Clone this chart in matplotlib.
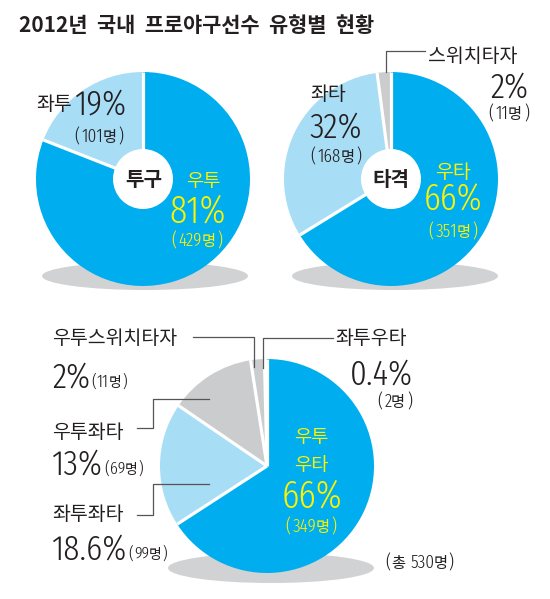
import numpy as np
import matplotlib
matplotlib.use("Agg")
import matplotlib.pyplot as plt
from matplotlib.patches import Circle, Ellipse

# 2012 국내 프로야구선수 유형별 현황 (총 530명)
pitch_labels = ["우투", "좌투"]
pitch_counts = [429, 101]
pitch_pct = ["81%", "19%"]

bat_labels = ["우타", "좌타", "스위치타자"]
bat_counts = [351, 168, 11]
bat_pct = ["66%", "32%", "2%"]

combo_labels = ["우투우타", "좌투좌타", "우투좌타", "우투스위치타자", "좌투우타"]
combo_counts = [349, 99, 69, 11, 2]
combo_pct = ["66%", "18.6%", "13%", "2%", "0.4%"]

W, H = 550, 599
BLUE = "#00AEEF"
LIGHT = "#A8DDF6"
GRAY = "#CBCCCE"
SHADOW = "#D1D2D3"
YELLOW = "#FFF200"
INK = "#231F20"
LINE = "#555555"

KR = ["Noto Sans CJK KR", "DejaVu Sans"]
NUM = ["Fira Sans Extra Condensed", "Roboto Condensed", "Noto Sans CJK KR", "DejaVu Sans"]


def Y(y):
    return H - y


def kr(ax, x, y, s, size=14, color=INK, ha="center", va="center", weight="medium"):
    return ax.text(x, Y(y), s, fontsize=size, color=color, ha=ha, va=va,
                   family=KR, fontweight=weight)


def num(ax, x, y, s, size=26, color=INK, ha="center", va="center"):
    return ax.text(x, Y(y), s, fontsize=size, color=color, ha=ha, va=va,
                   family=NUM, fontweight=300)


def width(ax, t):
    bb = t.get_window_extent(renderer=ax.figure.canvas.get_renderer())
    return bb.width


def chain(ax, x, base, pieces, color=INK, ha="left", gaps=None):
    # pieces: (text, family, size), set on one baseline
    texts = []
    for s, fam, size in pieces:
        w = 300 if fam is NUM else "medium"
        texts.append(ax.text(0, Y(base), s, fontsize=size, color=color, ha="left",
                             va="baseline", family=fam, fontweight=w))
    ws = [width(ax, t) for t in texts]
    if gaps is None:
        gaps = [1] * (len(ws) - 1)
    total = sum(ws) + sum(gaps)
    x0 = {"left": x, "center": x - total / 2, "right": x - total}[ha]
    for i, (t, w) in enumerate(zip(texts, ws)):
        t.set_x(x0)
        x0 += w + (gaps[i] if i < len(gaps) else 0)
    return x0


def cnt(ax, x, base, n, color=INK, ha="center", dsize=13.5, ksize=11, pad=2):
    pieces = [("(", NUM, dsize), (str(n), NUM, dsize), ("명", KR, ksize), (")", NUM, dsize)]
    return chain(ax, x, base, pieces, color=color, ha=ha, gaps=[pad, -0.5, pad])


def draw_pie(ax, counts, colors, cx, cy, r, shadow, hole=0):
    sx, sy, sw, sh = shadow
    ax.add_patch(Ellipse((sx, Y(sy)), sw, sh, fc=SHADOW, ec="none", zorder=0))
    wedges, _ = ax.pie(counts, colors=colors, startangle=90, counterclock=False,
                       center=(cx, Y(cy)), radius=r,
                       wedgeprops=dict(edgecolor="none", linewidth=0))
    for w in wedges:
        a = np.deg2rad(w.theta1)
        ax.plot([cx, cx + r * np.cos(a)], [Y(cy), Y(cy) + r * np.sin(a)],
                color="white", lw=2.3, zorder=2, solid_capstyle="butt")
    if hole:
        ax.add_patch(Circle((cx, Y(cy)), hole, fc="white", ec="none", zorder=3))


def leader(ax, xs, ys):
    ax.plot(xs, [Y(v) for v in ys], color=LINE, lw=0.9, zorder=4)


def after(ax, t, gap=1):
    bb = t.get_window_extent(renderer=ax.figure.canvas.get_renderer())
    return ax.transData.inverted().transform((bb.x1, bb.y0))[0] + gap


fig = plt.figure(figsize=(5.5, 5.99), dpi=100)
ax = fig.add_axes([0, 0, 1, 1])

draw_pie(ax, pitch_counts, [BLUE, LIGHT], 143, 179, 107, (145, 276, 206, 28), hole=30)
draw_pie(ax, bat_counts, [BLUE, LIGHT, GRAY], 391, 179, 107, (395, 276, 206, 28), hole=30)
draw_pie(ax, combo_counts, [BLUE, LIGHT, GRAY, GRAY, GRAY], 267, 466, 107,
         (271, 568, 206, 30))

ax.set_xlim(0, W)
ax.set_ylim(0, H)
ax.set_aspect("auto")
ax.axis("off")

# title
kr(ax, 19, 26, "2012년  국내  프로야구선수  유형별  현황", size=15, ha="left",
   weight="bold")

# 투구
kr(ax, 144, 180, "투구", size=14.5, weight="bold")
kr(ax, 203, 181, pitch_labels[0], size=13.5, color=YELLOW)
num(ax, 198, 212, pitch_pct[0], size=28, color=YELLOW)
cnt(ax, 197, 246, pitch_counts[0], color=YELLOW)
kr(ax, 54, 105, pitch_labels[1], size=14)
num(ax, 75, 105, pitch_pct[1], size=26, ha="left")
cnt(ax, 99, 142, pitch_counts[1])

# 타격
kr(ax, 391, 180, "타격", size=14.5, weight="bold")
kr(ax, 453, 172, bat_labels[0], size=14, color=YELLOW)
num(ax, 453, 200, bat_pct[0], size=27, color=YELLOW)
cnt(ax, 453, 237, bat_counts[0], color=YELLOW)
kr(ax, 328, 94, bat_labels[1], size=14)
num(ax, 336, 128, bat_pct[1], size=26)
cnt(ax, 336, 162, bat_counts[1])
leader(ax, [386, 386, 425], [72, 51, 51])
kr(ax, 428, 57, bat_labels[2], size=14, ha="left")
num(ax, 529, 88, bat_pct[2], size=26, ha="right")
cnt(ax, 529, 119, bat_counts[2], ha="right")

# 투구 x 타격
kr(ax, 311, 438, combo_labels[0][:2], size=13.5, color=YELLOW)
kr(ax, 311, 465, combo_labels[0][2:], size=13.5, color=YELLOW)
num(ax, 312, 497, combo_pct[0], size=28, color=YELLOW)
cnt(ax, 311, 532, combo_counts[0], color=YELLOW)

kr(ax, 52, 338, combo_labels[3], size=14, ha="left")
leader(ax, [193, 254, 254], [337, 337, 367])
t = num(ax, 52, 388, combo_pct[3], size=26, ha="left", va="baseline")
cnt(ax, after(ax, t), 387, combo_counts[3], ha="left", dsize=12.5, ksize=10, pad=1)

kr(ax, 335, 338, combo_labels[4], size=14, ha="left")
leader(ax, [333, 263, 263], [338, 338, 368])
num(ax, 413, 385, combo_pct[4], size=26, ha="right", va="baseline")
cnt(ax, 412, 407, combo_counts[4], ha="right")

kr(ax, 52, 432, combo_labels[2], size=14, ha="left")
leader(ax, [137, 153, 153, 209], [428, 428, 399, 399])
t = num(ax, 52, 475, combo_pct[2], size=26, ha="left", va="baseline")
cnt(ax, after(ax, t), 474, combo_counts[2], ha="left", dsize=12.5, ksize=10, pad=1)

kr(ax, 52, 514, combo_labels[1], size=14, ha="left")
leader(ax, [137, 153, 153, 209], [515, 515, 484, 484])
t = num(ax, 52, 560, combo_pct[1], size=26, ha="left", va="baseline")
cnt(ax, after(ax, t), 559, combo_counts[1], ha="left", dsize=12.5, ksize=10, pad=1)

chain(ax, 385, 568, [("(", NUM, 13.5), ("총", KR, 11),
                     (str(sum(combo_counts)), NUM, 13.5), ("명", KR, 11), (")", NUM, 13.5)],
      gaps=[1, 5, -0.5, 1])

fig.savefig("out.png", dpi=100, facecolor="white")
